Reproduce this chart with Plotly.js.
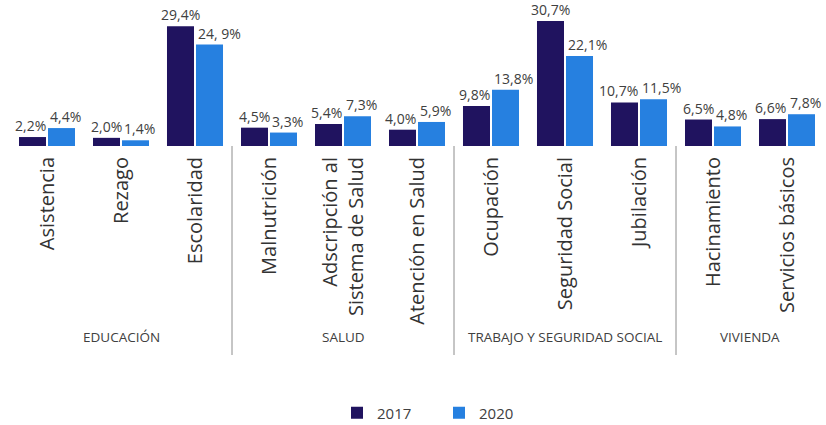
<!DOCTYPE html>
<html>
<head>
<meta charset="utf-8">
<script src="https://cdn.plot.ly/plotly-3.0.1.min.js"></script>
<style>html,body{margin:0;padding:0;background:#fff;}#chart{width:826px;height:425px;}</style>
</head>
<body>
<div id="chart"></div>
<script>
const categories = ["Asistencia", "Rezago", "Escolaridad", "Malnutrición", "Adscripción al<br>Sistema de Salud", "Atención en Salud", "Ocupación", "Seguridad Social", "Jubilación", "Hacinamiento", "Servicios básicos"];
const values2017 = [2.2, 2.0, 29.4, 4.5, 5.4, 4.0, 9.8, 30.7, 10.7, 6.5, 6.6];
const values2020 = [4.4, 1.4, 24.9, 3.3, 7.3, 5.9, 13.8, 22.1, 11.5, 4.8, 7.8];
const labels2017 = ["2,2%", "2,0%", "29,4%", "4,5%", "5,4%", "4,0%", "9,8%", "30,7%", "10,7%", "6,5%", "6,6%"];
const labels2020 = ["4,4%", "1,4%", "24, 9%", "3,3%", "7,3%", "5,9%", "13,8%", "22,1%", "11,5%", "4,8%", "7,8%"];
const groups = ["EDUCACIÓN", "SALUD", "TRABAJO Y SEGURIDAD SOCIAL", "VIVIENDA"];
const groupCenters = [1, 4, 7, 9.5];
const separators = [2.5, 5.5, 8.5];

const FONT = "'Open Sans', 'Noto Sans', sans-serif";
const idx = categories.map((c, i) => i);

// bar geometry (category units)
const BARGAP = 0.216, GROUPGAP = 0.069;
const slot = (1 - BARGAP) / 2;
const inner = slot * GROUPGAP / 2;

const common = {type: 'bar', x: idx, hoverinfo: 'skip', cliponaxis: false};
const traces = [
  Object.assign({}, common, {name: '2017', y: values2017, marker: {color: '#20135f'}}),
  Object.assign({}, common, {name: '2020', y: values2020, marker: {color: '#2680e0'}})
];

const H = 136;
const shapes = separators.map(s => ({
  type: 'line', xref: 'x', yref: 'paper', x0: s, x1: s, y0: 0, y1: -(355 - 146) / H,
  line: {color: '#8c8c8c', width: 1}
}));
const labelFont = {family: FONT, size: 14, color: '#404040'};
const annotations = groups.map((g, i) => ({
  text: g, xref: 'x', yref: 'paper', x: groupCenters[i], y: -(337 - 146) / H,
  showarrow: false, xanchor: 'center', yanchor: 'middle',
  font: {family: FONT, size: 13.5, color: '#404040'}
}));
idx.forEach(i => {
  const smaller17 = values2017[i] < values2020[i];
  annotations.push({
    text: labels2017[i], xref: 'x', yref: 'y',
    x: smaller17 ? i - inner : i - slot / 2,
    xanchor: smaller17 ? 'right' : 'center',
    y: values2017[i], yanchor: 'bottom', showarrow: false, font: labelFont,
    xshift: smaller17 ? 2 : 0
  });
  annotations.push({
    text: labels2020[i], xref: 'x', yref: 'y',
    x: i + inner, xanchor: 'left',
    y: values2020[i], yanchor: 'bottom', showarrow: false, font: labelFont,
    xshift: 0
  });
});

const layout = {
  width: 826, height: 425,
  margin: {l: 10, r: 2, t: 10, b: 279, autoexpand: false},
  paper_bgcolor: '#fff', plot_bgcolor: '#fff',
  barmode: 'group', bargap: BARGAP, bargroupgap: GROUPGAP,
  showlegend: true,
  legend: {orientation: 'h', xref: 'container', yref: 'container',
           xanchor: 'left', x: 337 / 826, y: 1 - 413 / 425, yanchor: 'middle',
           bgcolor: 'rgba(0,0,0,0)',
           font: {family: FONT, size: 15, color: '#404040'}, itemwidth: 30,
           entrywidth: 57, entrywidthmode: 'pixels'},
  xaxis: {
    tickmode: 'array', tickvals: idx, ticktext: categories, tickangle: -90,
    range: [-0.5, 10.5], showgrid: false, zeroline: false, showline: false, ticks: '',
    ticklabelstandoff: 6,
    tickfont: {family: FONT, size: 20, color: '#333'}, automargin: false
  },
  yaxis: {range: [0, 136 / 4.075], visible: false, showgrid: false, zeroline: false, fixedrange: true},
  shapes: shapes,
  annotations: annotations,
  font: {family: FONT}
};

Plotly.newPlot('chart', traces, layout, {displayModeBar: false, staticPlot: true});
</script>
</body>
</html>
